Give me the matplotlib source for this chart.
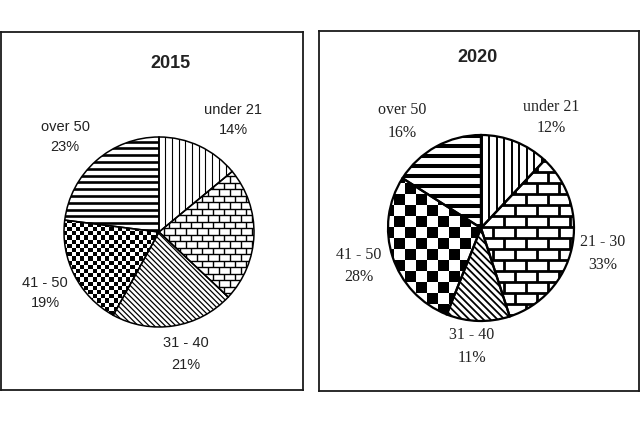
import matplotlib
matplotlib.use("Agg")
import matplotlib.pyplot as plt
import numpy as np
from matplotlib.collections import LineCollection, PatchCollection
from matplotlib.patches import Rectangle, Wedge

# data
categories = ["under 21", "21 - 30", "31 - 40", "41 - 50", "over 50"]
share_2015 = [14, 23, 21, 19, 23]
share_2020 = [12, 33, 11, 28, 16]

# figure is 640x427 px, each axes uses pixel units as data units
W, H = 640, 427
TXT = "#222222"


def line_pattern(ax, wedge, angle, spacing, lw, phase=0.0):
    cx, cy = wedge.center
    r = wedge.r + 5
    a = np.deg2rad(angle)
    u = np.array([np.cos(a), np.sin(a)])
    n = np.array([-u[1], u[0]])
    segs = []
    for d in np.arange(-r + phase, r, spacing):
        p = np.array([cx, cy]) + d * n
        segs.append([p - r * u, p + r * u])
    lc = LineCollection(segs, colors="black", linewidths=lw, zorder=2)
    ax.add_collection(lc)
    lc.set_clip_path(wedge)


def checker_pattern(ax, wedge, cell):
    cx, cy = wedge.center
    r = wedge.r + 5
    rects = []
    for i, x in enumerate(np.arange(cx - r, cx + r, cell)):
        for j, y in enumerate(np.arange(cy - r, cy + r, cell)):
            if (i + j) % 2 == 0:
                rects.append(Rectangle((x, y), cell, cell))
    pc = PatchCollection(rects, facecolor="black", edgecolor="none", zorder=2)
    ax.add_collection(pc)
    pc.set_clip_path(wedge)


def brick_pattern(ax, wedge, bw, bh, lw):
    cx, cy = wedge.center
    r = wedge.r + 5
    segs = []
    for k, y in enumerate(np.arange(cy - r, cy + r, bh)):
        segs.append([(cx - r, y), (cx + r, y)])
        off = (k % 2) * bw / 2
        for x in np.arange(cx - r - bw + off, cx + r, bw):
            segs.append([(x, y), (x, y + bh)])
    lc = LineCollection(segs, colors="black", linewidths=lw, zorder=2)
    ax.add_collection(lc)
    lc.set_clip_path(wedge)


def draw_pie(ax, values, center, radius, style, edge_lw):
    wedges, _ = ax.pie(values, startangle=90, counterclock=False,
                       center=center, radius=radius, frame=True,
                       wedgeprops=dict(facecolor="white", edgecolor="none"))
    # under 21, 21-30, 31-40, 41-50, over 50
    line_pattern(ax, wedges[0], 90, style["vsp"], style["vlw"])
    brick_pattern(ax, wedges[1], style["bw"], style["bh"], style["blw"])
    line_pattern(ax, wedges[2], -45, style["dsp"], style["dlw"])
    checker_pattern(ax, wedges[3], style["cell"])
    line_pattern(ax, wedges[4], 0, style["hsp"], style["hlw"])
    for w in wedges:
        ax.add_patch(Wedge(w.center, w.r, w.theta1, w.theta2, fill=False,
                           edgecolor="black", linewidth=edge_lw, zorder=3))


def setup_axes(fig, box):
    x0, y0, x1, y1 = box  # image pixel coords (top-left origin)
    ax = fig.add_axes([x0 / W, (H - y1) / H, (x1 - x0) / W, (y1 - y0) / H])
    return ax, x1 - x0, y1 - y0


fig = plt.figure(figsize=(6.4, 4.27), dpi=100)

# ---- 2015 panel
ax1, w1, h1 = setup_axes(fig, (1, 33, 303, 391))
draw_pie(ax1, share_2015, (158, 158), 95,
         dict(vsp=6.7, vlw=0.8, bw=11, bh=6.5, blw=1.0, dsp=3.8, dlw=0.9,
              cell=4.2, hsp=6.8, hlw=1.9), edge_lw=1.1)
ax1.set_xlim(0, w1)
ax1.set_ylim(0, h1)
ax1.set_aspect("equal")
ax1.set_xticks([])
ax1.set_yticks([])
for s in ax1.spines.values():
    s.set_linewidth(1.3)
    s.set_color("#1a1a1a")
ax1.text(169, 328, "2015", ha="center", va="center", fontsize=13,
         fontweight="bold", family="Liberation Sans", color=TXT)
pos_2015 = {0: (232, 281, 261), 2: (185, 48, 26), 3: (44, 108, 88), 4: (64, 264, 244)}
for i, (x, ya, yb) in pos_2015.items():
    ax1.text(x, ya, categories[i], ha="center", va="center", fontsize=10.5,
             family="Liberation Sans", color=TXT)
    ax1.text(x, yb, f"{share_2015[i]}%", ha="center", va="center",
             fontsize=10.5, family="Liberation Sans", color=TXT)

# ---- 2020 panel
ax2, w2, h2 = setup_axes(fig, (319, 32, 639, 392))
draw_pie(ax2, share_2020, (162, 163), 93,
         dict(vsp=7.5, vlw=1.4, bw=22, bh=11, blw=2.0, dsp=5.0, dlw=1.3,
              cell=11, hsp=10, hlw=2.9), edge_lw=1.6)
ax2.set_xlim(0, w2)
ax2.set_ylim(0, h2)
ax2.set_aspect("equal")
ax2.set_xticks([])
ax2.set_yticks([])
for s in ax2.spines.values():
    s.set_linewidth(1.3)
    s.set_color("#1a1a1a")
ax2.text(159, 334, "2020", ha="center", va="center", fontsize=13,
         fontweight="bold", family="Liberation Sans", color=TXT)
pos_2020 = {0: (232, 285, 264), 1: (284, 150, 127), 2: (153, 57, 34),
            3: (40, 137, 115), 4: (83, 282, 259)}
for i, (x, ya, yb) in pos_2020.items():
    ax2.text(x, ya, categories[i], ha="center", va="center", fontsize=11.5,
             family="Liberation Serif", color=TXT)
    ax2.text(x, yb, f"{share_2020[i]}%", ha="center", va="center",
             fontsize=11.5, family="Liberation Serif", color=TXT)

fig.savefig("out.png", dpi=100)
